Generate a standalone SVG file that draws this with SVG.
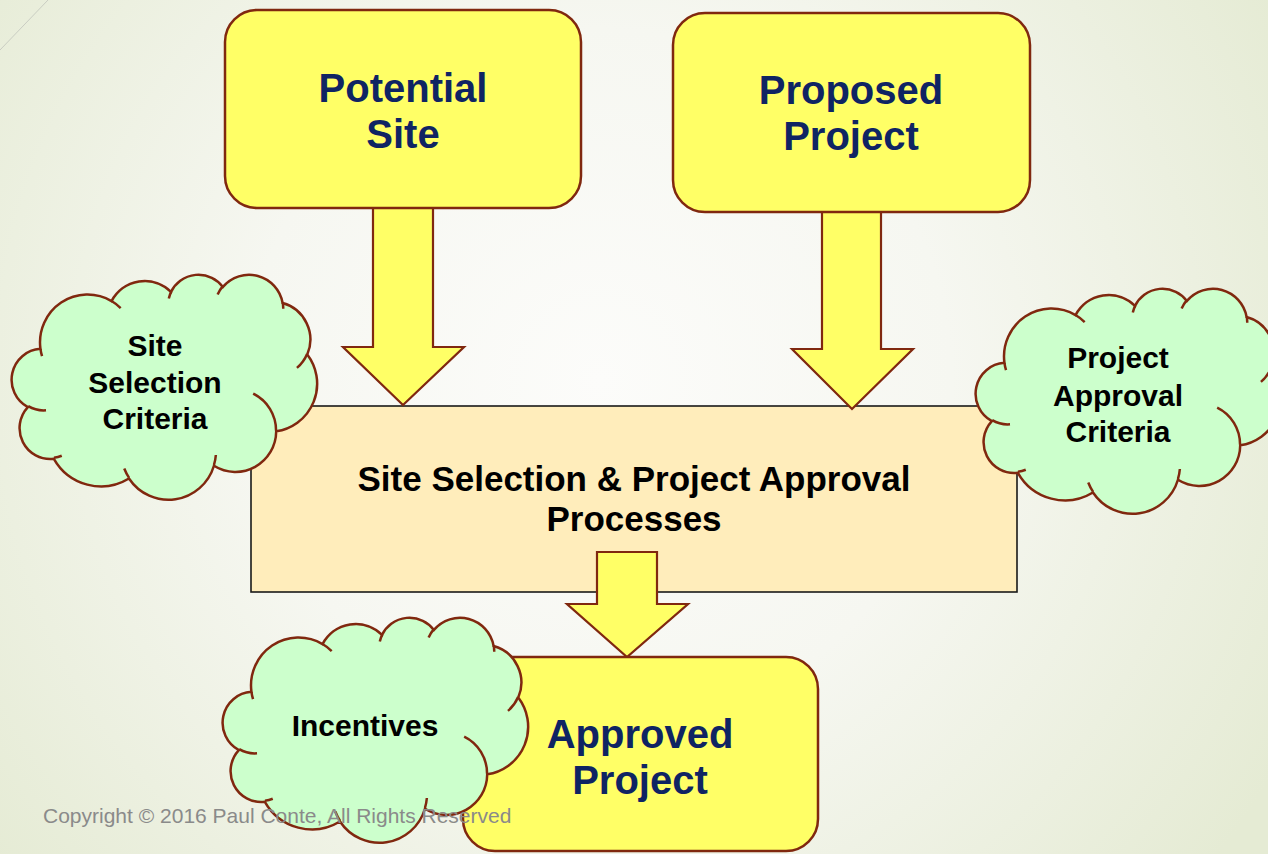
<svg xmlns="http://www.w3.org/2000/svg" xmlns:xlink="http://www.w3.org/1999/xlink" width="1268" height="854" viewBox="0 0 1268 854">
  <defs>
    <radialGradient id="bg" cx="600" cy="380" r="780" gradientUnits="userSpaceOnUse">
      <stop offset="0" stop-color="#fcfcfa"/>
      <stop offset="0.45" stop-color="#f6f7f1"/>
      <stop offset="1" stop-color="#e5ebd4"/>
    </radialGradient>
    <!-- cloud outline, 304 x 225 -->
    <path id="cloud-outline" d="M27.44 74.84 A47.52 47.86 0 0 1 98.55 27.09 A37.53 37.85 0 0 1 158.02 17.88 A30.72 30.96 0 0 1 209.93 12.92 A34.18 34.35 0 0 1 269.64 29.04 A37.53 37.88 0 0 1 294.27 80.52 A47.68 48.02 0 0 1 263.21 157.31 A40.71 40.97 0 0 1 200.95 191.74 A47.51 47.99 0 0 1 115.98 204.52 A54.33 54.91 0 0 1 40.86 184.77 A30.68 30.82 0 0 1 14.86 133.10 A30.58 30.96 0 0 1 27.44 74.84 Z"/>
    <!-- inner fold lines of the cloud -->
    <path id="cloud-folds" d="M33.02 136.34 A30.58 30.96 0 0 1 15.20 132.19 M48.75 181.77 A30.68 30.82 0 0 1 40.96 183.75 M115.96 203.59 A47.51 47.99 0 0 1 111.25 194.52 M202.86 181.00 A47.51 47.99 0 0 1 200.98 190.94 M240.17 119.55 A40.71 40.97 0 0 1 263.04 156.72 M294.13 79.97 A37.53 37.88 0 0 1 283.94 93.91 M269.69 28.26 A34.18 34.35 0 0 1 270.23 34.84 M204.62 20.58 A34.18 34.35 0 0 1 209.84 12.18 M155.81 24.58 A30.72 30.96 0 0 1 158.33 17.35 M98.52 27.04 A47.52 47.86 0 0 1 107.67 34.07 M29.04 82.23 A47.52 47.86 0 0 1 27.44 74.85"/>
  </defs>
  <style>
    .box { fill: #ffff66; stroke: #80280f; stroke-width: 2.5; }
    .process { fill: #ffedbb; stroke: #1a1a1a; stroke-width: 1.6; }
    .arrow { fill: #ffff66; stroke: #80280f; stroke-width: 2.2; stroke-linejoin: miter; }
    .cloud { fill: #ccffcc; stroke: #80280f; stroke-width: 2.5; }
    .fold { fill: none; stroke: #80280f; stroke-width: 2.5; }
    .big { font-family: "Liberation Sans", Arial, sans-serif; font-weight: bold; font-size: 40px; fill: #0f2463; text-anchor: middle; }
    .mid { font-family: "Liberation Sans", Arial, sans-serif; font-weight: bold; font-size: 35px; fill: #000; text-anchor: middle; }
    .small { font-family: "Liberation Sans", Arial, sans-serif; font-weight: bold; font-size: 30px; fill: #000; text-anchor: middle; }
    .copy { font-family: "Liberation Sans", Arial, sans-serif; font-size: 21px; fill: #8a8a8a; }
  </style>

  <!-- page background -->
  <rect width="1268" height="854" fill="url(#bg)"/>
  <line x1="0" y1="50" x2="48" y2="0" stroke="#c9cdc2" stroke-width="1"/>

  <!-- central process -->
  <g id="process">
    <rect class="process" x="251" y="406" width="766" height="186"/>
    <text class="mid" x="634" y="491">Site Selection &amp; Project Approval</text>
    <text class="mid" x="634" y="531">Processes</text>
  </g>

  <!-- block arrows -->
  <g id="connectors">
    <polygon class="arrow" points="373,204 433,204 433,347 464,347 403,405 343,347 373,347"/>
    <polygon class="arrow" points="822,208 881,208 881,349 913,349 852,409 792,349 822,349"/>
    <polygon class="arrow" points="597,552 657,552 657,604 688,604 627,657 567,604 597,604"/>
  </g>

  <g id="potential-site">
    <rect class="box" x="225" y="10" width="356" height="198" rx="32"/>
    <text class="big" x="403" y="102">Potential</text>
    <text class="big" x="403" y="148">Site</text>
  </g>

  <g id="proposed-project">
    <rect class="box" x="673" y="13" width="357" height="199" rx="32"/>
    <text class="big" x="851" y="104">Proposed</text>
    <text class="big" x="851" y="150">Project</text>
  </g>

  <g id="approved-project">
    <rect class="box" x="463" y="657" width="355" height="194" rx="32"/>
    <text class="big" x="640" y="748">Approved</text>
    <text class="big" x="640" y="794">Project</text>
  </g>

  <g id="site-selection-criteria">
    <g transform="translate(13,274)">
      <use xlink:href="#cloud-outline" class="cloud"/>
      <use xlink:href="#cloud-folds" class="fold"/>
    </g>
    <text class="small" x="155" y="356">Site</text>
    <text class="small" x="155" y="393">Selection</text>
    <text class="small" x="155" y="429">Criteria</text>
  </g>

  <g id="project-approval-criteria">
    <g transform="translate(977,288)">
      <use xlink:href="#cloud-outline" class="cloud"/>
      <use xlink:href="#cloud-folds" class="fold"/>
    </g>
    <text class="small" x="1118" y="368">Project</text>
    <text class="small" x="1118" y="406">Approval</text>
    <text class="small" x="1118" y="442">Criteria</text>
  </g>

  <g id="incentives">
    <g transform="translate(224,617)">
      <use xlink:href="#cloud-outline" class="cloud"/>
      <use xlink:href="#cloud-folds" class="fold"/>
    </g>
    <text class="small" x="365" y="736">Incentives</text>
  </g>

  <text class="copy" x="43" y="823">Copyright © 2016 Paul Conte, All Rights Reserved</text>
</svg>
